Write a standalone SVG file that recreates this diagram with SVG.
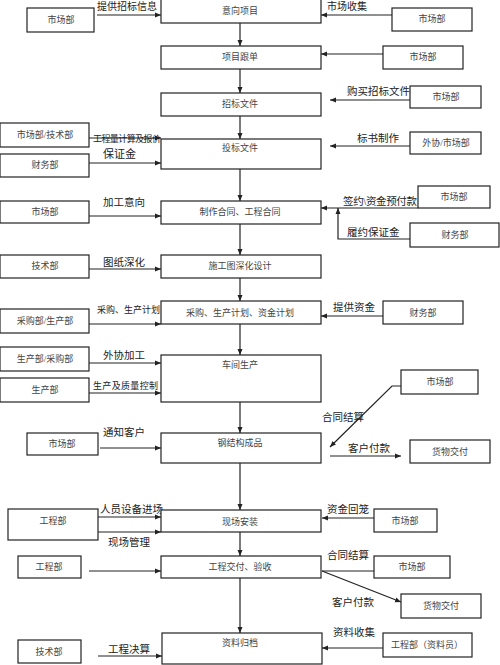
<svg xmlns="http://www.w3.org/2000/svg" width="500" height="665" viewBox="0 0 500 665">
<style>
.b{fill:#fff;stroke:#222;stroke-width:1.2}
.bt{font-family:"Liberation Serif","Noto Sans CJK SC",serif;font-size:9px;fill:#444;text-anchor:middle}
.lb{font-family:"Liberation Serif","Noto Sans CJK SC",serif;font-size:10.5px;fill:#222}
.ls{font-family:"Liberation Serif","Noto Sans CJK SC",serif;font-size:9px;fill:#222}
.c{fill:none;stroke:#222;stroke-width:1.2}
.a{marker-end:url(#ah)}
</style>
<defs>
<marker id="ah" markerUnits="userSpaceOnUse" markerWidth="6" markerHeight="6" refX="6" refY="3" orient="auto">
<path d="M0,0.5 L6,3 L0,5.5 z" fill="#222"/>
</marker>
</defs>
<rect width="500" height="665" fill="#fff"/>
<g id="connectors">
<line class="c a" x1="240" y1="23" x2="240" y2="46"/>
<line class="c a" x1="240" y1="69" x2="240" y2="93"/>
<line class="c a" x1="240" y1="116" x2="240" y2="139"/>
<line class="c a" x1="240" y1="169" x2="240" y2="201"/>
<line class="c a" x1="240" y1="224" x2="240" y2="255"/>
<line class="c a" x1="240" y1="278" x2="240" y2="301"/>
<line class="c a" x1="240" y1="324" x2="240" y2="355"/>
<line class="c a" x1="240" y1="402" x2="240" y2="433"/>
<line class="c a" x1="240" y1="463" x2="240" y2="510"/>
<line class="c a" x1="240" y1="532" x2="240" y2="556"/>
<line class="c a" x1="240" y1="578" x2="240" y2="633"/>
<line class="c a" x1="97" y1="15" x2="161" y2="15"/>
<line class="c a" x1="392" y1="15" x2="321" y2="15"/>
<line class="c a" x1="383" y1="54" x2="321" y2="54"/>
<line class="c a" x1="410" y1="100" x2="330" y2="100"/>
<line class="c a" x1="89" y1="138" x2="161" y2="138"/>
<line class="c a" x1="89" y1="163" x2="161" y2="163"/>
<line class="c a" x1="410" y1="146" x2="330" y2="146"/>
<line class="c a" x1="89" y1="216" x2="161" y2="216"/>
<line class="c a" x1="418" y1="208" x2="321" y2="208"/>
<polyline class="c a" points="410,239 338,239 338,208"/>
<line class="c a" x1="89" y1="269" x2="161" y2="269"/>
<line class="c a" x1="89" y1="324" x2="161" y2="324"/>
<line class="c a" x1="383" y1="316" x2="321" y2="316"/>
<line class="c a" x1="89" y1="363" x2="161" y2="363"/>
<line class="c a" x1="89" y1="393" x2="161" y2="393"/>
<line class="c a" x1="100" y1="448" x2="161" y2="448"/>
<polyline class="c a" points="401,386 392,386 330,447"/>
<line class="c a" x1="330" y1="456" x2="401" y2="456"/>
<line class="c a" x1="98" y1="517" x2="161" y2="517"/>
<line class="c a" x1="98" y1="532" x2="161" y2="532"/>
<line class="c a" x1="374" y1="518" x2="322" y2="518"/>
<line class="c a" x1="89" y1="571" x2="161" y2="571"/>
<line class="c" x1="374" y1="571" x2="322" y2="571"/>
<line class="c a" x1="322" y1="571" x2="401" y2="602"/>
<line class="c a" x1="98" y1="656" x2="162" y2="656"/>
<line class="c a" x1="383" y1="648" x2="322" y2="648"/>
</g>
<g id="labels">
<text class="lb" x="97" y="10" style="font-size:10px">提供招标信息</text>
<text class="lb" x="327" y="10" style="font-size:10px">市场收集</text>
<text class="ls" x="93" y="142" textLength="68">工程量计算及报价</text>
<text class="lb" x="103" y="158" style="font-size:11px">保证金</text>
<text class="lb" x="103" y="206">加工意向</text>
<text class="lb" x="103" y="266">图纸深化</text>
<text class="ls" x="97" y="313" textLength="63">采购、生产计划</text>
<text class="lb" x="103" y="359">外协加工</text>
<text class="ls" x="93" y="389" textLength="65">生产及质量控制</text>
<text class="lb" x="103" y="436">通知客户</text>
<text class="lb" x="100" y="513">人员设备进场</text>
<text class="lb" x="108" y="546">现场管理</text>
<text class="lb" x="108" y="653">工程决算</text>
<text class="lb" x="347" y="95">购买招标文件</text>
<text class="lb" x="357" y="142">标书制作</text>
<text class="lb" x="343" y="205" textLength="74">签约\资金预付款</text>
<text class="lb" x="347" y="236">履约保证金</text>
<text class="lb" x="333" y="311">提供资金</text>
<text class="lb" x="322" y="421">合同结算</text>
<text class="lb" x="348" y="452">客户付款</text>
<text class="lb" x="327" y="513">资金回笼</text>
<text class="lb" x="327" y="559">合同结算</text>
<text class="lb" x="332" y="606">客户付款</text>
<text class="lb" x="333" y="636">资料收集</text>
</g>
<g id="n1"><rect class="b" x="161" y="-1" width="160" height="24"/><text class="bt" x="240" y="14">意向项目</text></g>
<g id="n2"><rect class="b" x="161" y="46" width="160" height="23"/><text class="bt" x="240" y="60">项目跟单</text></g>
<g id="n3"><rect class="b" x="161" y="93" width="160" height="23"/><text class="bt" x="240" y="107">招标文件</text></g>
<g id="n4"><rect class="b" x="161" y="139" width="160" height="30"/><text class="bt" x="240" y="151">投标文件</text></g>
<g id="n5"><rect class="b" x="161" y="201" width="160" height="23"/><text class="bt" x="240" y="215">制作合同、工程合同</text></g>
<g id="n6"><rect class="b" x="161" y="255" width="160" height="23"/><text class="bt" x="240" y="269">施工图深化设计</text></g>
<g id="n7"><rect class="b" x="161" y="301" width="160" height="23"/><text class="bt" x="240" y="316">采购、生产计划、资金计划</text></g>
<g id="n8"><rect class="b" x="161" y="355" width="160" height="47"/><text class="bt" x="240" y="368">车间生产</text></g>
<g id="n9"><rect class="b" x="161" y="433" width="160" height="30"/><text class="bt" x="240" y="446">钢结构成品</text></g>
<g id="n10"><rect class="b" x="161" y="510" width="160" height="22"/><text class="bt" x="240" y="525">现场安装</text></g>
<g id="n11"><rect class="b" x="161" y="556" width="160" height="22"/><text class="bt" x="240" y="570">工程交付、验收</text></g>
<g id="n12"><rect class="b" x="162" y="633" width="160" height="31"/><text class="bt" x="240" y="646">资料归档</text></g>
<g id="l1"><rect class="b" x="27" y="8" width="67" height="24"/><text class="bt" x="61" y="23">市场部</text></g>
<g id="l2"><rect class="b" x="0" y="123" width="89" height="24"/><text class="bt" x="45" y="138">市场部/技术部</text></g>
<g id="l3"><rect class="b" x="0" y="154" width="89" height="23"/><text class="bt" x="45" y="168">财务部</text></g>
<g id="l4"><rect class="b" x="0" y="201" width="89" height="22"/><text class="bt" x="45" y="215">市场部</text></g>
<g id="l5"><rect class="b" x="0" y="255" width="89" height="23"/><text class="bt" x="45" y="269">技术部</text></g>
<g id="l6"><rect class="b" x="0" y="309" width="89" height="24"/><text class="bt" x="45" y="324">采购部/生产部</text></g>
<g id="l7"><rect class="b" x="0" y="347" width="89" height="24"/><text class="bt" x="45" y="362">生产部/采购部</text></g>
<g id="l8"><rect class="b" x="0" y="378" width="89" height="24"/><text class="bt" x="45" y="393">生产部</text></g>
<g id="l9"><rect class="b" x="27" y="433" width="71" height="22"/><text class="bt" x="62" y="447">市场部</text></g>
<g id="l10"><rect class="b" x="8" y="509" width="90" height="31"/><text class="bt" x="53" y="524">工程部</text></g>
<g id="l11"><rect class="b" x="18" y="556" width="63" height="22"/><text class="bt" x="49" y="570">工程部</text></g>
<g id="l12"><rect class="b" x="18" y="640" width="63" height="23"/><text class="bt" x="49" y="655">技术部</text></g>
<g id="r1"><rect class="b" x="392" y="8" width="80" height="23"/><text class="bt" x="432" y="22">市场部</text></g>
<g id="r2"><rect class="b" x="383" y="46" width="80" height="23"/><text class="bt" x="423" y="60">市场部</text></g>
<g id="r3"><rect class="b" x="410" y="86" width="71" height="22"/><text class="bt" x="446" y="100">市场部</text></g>
<g id="r4"><rect class="b" x="410" y="132" width="71" height="22"/><text class="bt" x="446" y="146">外协/市场部</text></g>
<g id="r5"><rect class="b" x="418" y="186" width="72" height="22"/><text class="bt" x="454" y="200">市场部</text></g>
<g id="r6"><rect class="b" x="410" y="223" width="89" height="24"/><text class="bt" x="455" y="238">财务部</text></g>
<g id="r7"><rect class="b" x="383" y="301" width="80" height="23"/><text class="bt" x="423" y="316">财务部</text></g>
<g id="r8"><rect class="b" x="401" y="370" width="77" height="24"/><text class="bt" x="440" y="385">市场部</text></g>
<g id="r9"><rect class="b" x="410" y="440" width="80" height="23"/><text class="bt" x="450" y="455">货物交付</text></g>
<g id="r10"><rect class="b" x="374" y="509" width="63" height="23"/><text class="bt" x="405" y="524">市场部</text></g>
<g id="r11"><rect class="b" x="374" y="556" width="76" height="22"/><text class="bt" x="412" y="570">市场部</text></g>
<g id="r12"><rect class="b" x="401" y="594" width="80" height="24"/><text class="bt" x="441" y="609">货物交付</text></g>
<g id="r13"><rect class="b" x="383" y="633" width="89" height="24"/><text class="bt" x="427" y="648">工程部（资料员）</text></g>
</svg>
